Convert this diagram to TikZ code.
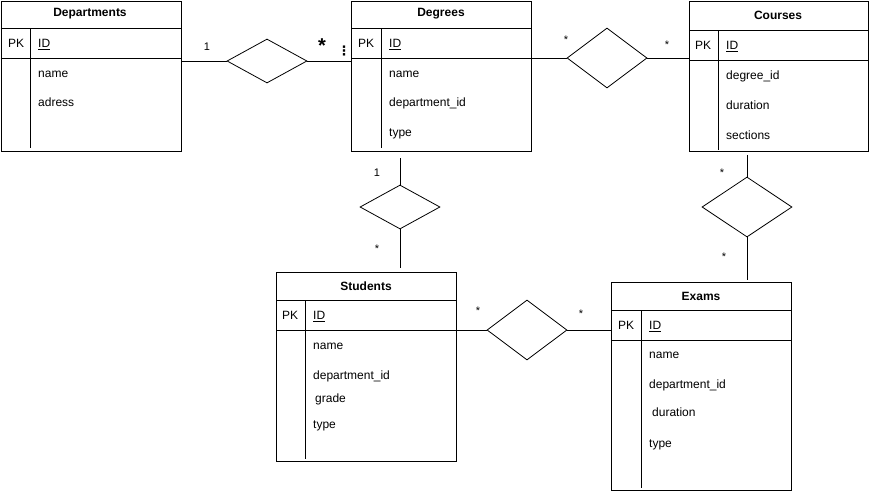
\documentclass[tikz,border=0pt]{standalone}
\usepackage{fontspec}
\setmainfont{Liberation Sans}
\newfontfamily\dotsfont{DejaVu Sans}
\usetikzlibrary{shapes.geometric}

\begin{document}
\begin{tikzpicture}[x=1pt, y=-1pt,
    every node/.style={font=\fontsize{12}{14}\selectfont},
    entity/.style={draw, line width=0.9pt, inner sep=0, anchor=north west},
    rel/.style={draw, diamond, inner sep=0, line width=0.8pt},
    field/.style={anchor=west, inner sep=0, text height=9pt, text depth=0pt},
    card/.style={inner sep=0, font=\fontsize{11}{12}\selectfont},
    link/.style={line width=0.8pt}]
  \useasboundingbox (0,0) rectangle (869,491);

  % Draw tables
  \node[entity, minimum width=180, minimum height=150] (dep) at (0.5,0.5) {};
  \node[entity, minimum width=180, minimum height=150] (deg) at (351,0.5) {};
  \node[entity, minimum width=179, minimum height=150] (crs) at (689,0.5) {};
  \node[entity, minimum width=180, minimum height=189] (stu) at (276,272) {};
  \node[entity, minimum width=180, minimum height=208] (exa) at (611,282) {};

  % Draw rows and key column
  \foreach \t/\a/\b/\k/\e in {dep/28/58/30/148, deg/28/58/381/148, crs/30/60/718/150,
      stu/300/330/305/459, exa/310/340/641/488} {
    \draw[line width=0.9pt] (\t.west |- 0,\a) -- (\t.east |- 0,\a);
    \draw[line width=0.9pt] (\t.west |- 0,\b) -- (\t.east |- 0,\b);
    \draw[line width=0.9pt] (\k,\a) -- (\k,\e);
  }

  % Draw titles
  \node[inner sep=0, font=\fontsize{12}{14}\selectfont\bfseries] (depT) at (90,14) {Departments};
  \node[inner sep=0, font=\fontsize{12}{14}\selectfont\bfseries] (degT) at (441,14) {Degrees};
  \node[inner sep=0, font=\fontsize{12}{14}\selectfont\bfseries] (crsT) at (778,15) {Courses};
  \node[inner sep=0, font=\fontsize{12}{14}\selectfont\bfseries] (stuT) at (366,286) {Students};
  \node[inner sep=0, font=\fontsize{12}{14}\selectfont\bfseries] (exaT) at (701,296) {Exams};

  % Primary keys
  \foreach \n/\x/\y/\k in {dep/8/43/38, deg/358/43/389, crs/695/45/726, stu/282/315/313, exa/618/325/649} {
    \node[field] (\n PK) at (\x,\y) {PK};
    \node[field] (\n ID) at (\k,\y) {\underline{ID}};
  }

  % Attributes
  \foreach \n/\x/\y/\s in {depA/38/73/name, depB/38/102/adress,
      degA/389/73/name, degB/389/102/department\_id, degC/389/132/type,
      crsA/726/75/degree\_id, crsB/726/105/duration, crsC/726/135/sections,
      stuA/313/345/name, stuB/313/375/department\_id, stuC/315/398/grade, stuD/313/424/type,
      exaA/649/354/name, exaB/649/384/department\_id, exaC/652/412/duration, exaD/649/443/type} {
    \node[field] (\n) at (\x,\y) {\s};
  }

  % Relationships
  \node[rel, minimum width=80, minimum height=44] (d1) at (267,61) {};
  \node[rel, minimum width=80, minimum height=60] (d2) at (607,58) {};
  \node[rel, minimum width=80, minimum height=44] (d3) at (400,207) {};
  \node[rel, minimum width=80, minimum height=60] (d4) at (527,330) {};
  \node[rel, minimum width=90, minimum height=60] (d5) at (747,207) {};

  % Connectors
  \draw[link] (d1.west -| dep.east) -- (d1.west);
  \draw[link] (d1.east) -- (d1.east -| deg.west);
  \draw[link] ([xshift=-14pt]d2.west -| deg.east) -- (d2.west);
  \draw[link] (d2.east) -- (d2.east -| crs.west);
  \draw[link] ([yshift=-7pt]d3.north |- deg.south) -- (d3.north);
  \draw[link] (d3.south) -- ([yshift=4pt]d3.south |- stu.north);
  \draw[link] (d4.west -| stu.east) -- (d4.west);
  \draw[link] (d4.east) -- (d4.east -| exa.west);
  \draw[link] ([yshift=-4pt]d5.north |- crs.south) -- (d5.north);
  \draw[link] (d5.south) -- ([yshift=2pt]d5.south |- exa.north);

  % Cardinalities
  \node[card] (c1) at (207,47) {1};
  \node[card, font=\fontsize{20}{20}\selectfont\bfseries] (c2) at (322,46) {*};
  \node[card, font=\fontsize{13}{14}\dotsfont\bfseries] (c3) at (344,51) {⋮};
  \foreach \n/\x/\y/\s in {c4/566/40/*, c5/667/45/*, c6/377/173/1, c7/377/249/*,
      c8/478/311/*, c9/581/314/*, c10/722/173/*, c11/724/257/*} {
    \node[card] (\n) at (\x,\y) {\s};
  }
\end{tikzpicture}
\end{document}
